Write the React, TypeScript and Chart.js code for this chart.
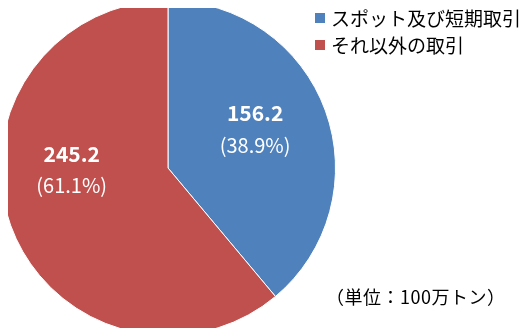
import React, { useEffect, useRef } from "react";
import { Chart, registerables } from "chart.js";

Chart.register(...registerables);

const categories = ["スポット及び短期取引", "それ以外の取引"];
const values = [156.2, 245.2];
const percents = ["(38.9%)", "(61.1%)"];
const colors = ["#4F81BD", "#C0504D"];
const unitLabel = "（単位：100万トン）";

const JP = '"Noto Sans CJK JP", "Noto Sans", sans-serif';

export default function App() {
  const ref = useRef<HTMLCanvasElement | null>(null);

  useEffect(() => {
    const canvas = ref.current;
    if (!canvas) return;

    const overlay = {
      id: "overlay",
      afterDraw(chart: any) {
        const ctx = chart.ctx as any;
        const meta = chart.getDatasetMeta(0);
        const arc0 = meta.data[0] as any;
        const cx = arc0.x;
        const cy = arc0.y;
        const R = arc0.outerRadius;
        const anchors = [
          [0.52, -0.23],
          [-0.575, 0.01],
        ];
        ctx.save();
        ctx.fillStyle = "#ffffff";
        ctx.textAlign = "center";
        ctx.textBaseline = "middle";
        values.forEach((v, i) => {
          const x = cx + anchors[i][0] * R;
          const y = cy + anchors[i][1] * R;
          ctx.font = `bold 21px ${JP}`;
          ctx.fillText(v.toFixed(1), x, y - 16);
          ctx.font = `20px ${JP}`;
          ctx.fillText(percents[i], x, y + 16);
        });
        ctx.textAlign = "left";
        categories.forEach((c, i) => {
          const y = 18 + i * 27;
          ctx.fillStyle = colors[i];
          ctx.fillRect(315, y - 5, 10, 10);
          ctx.fillStyle = "#000000";
          ctx.font = `19px ${JP}`;
          ctx.fillText(c, 331, y + 1);
        });
        ctx.letterSpacing = "0.5px";
        ctx.font = `18px ${JP}`;
        ctx.fillText(unitLabel, 326, 297);
        ctx.restore();
      },
    };

    const chart = new Chart(canvas, {
      type: "pie",
      data: {
        labels: categories,
        datasets: [
          {
            data: values,
            backgroundColor: colors,
            borderColor: "#ffffff",
            borderWidth: 1,
            hoverOffset: 0,
            offset: 0,
          },
        ],
      },
      options: {
        animation: false,
        responsive: false,
        maintainAspectRatio: false,
        layout: { padding: { left: 0, right: 192, top: 0, bottom: 0 } },
        plugins: {
          legend: { display: false },
          tooltip: { enabled: false },
        },
      },
      plugins: [overlay],
    });
    return () => chart.destroy();
  }, []);

  return (
    <div style={{ width: 528, height: 336, margin: -8, background: "#fff" }}>
      <canvas ref={ref} width={528} height={336} style={{ display: "block" }} />
    </div>
  );
}
